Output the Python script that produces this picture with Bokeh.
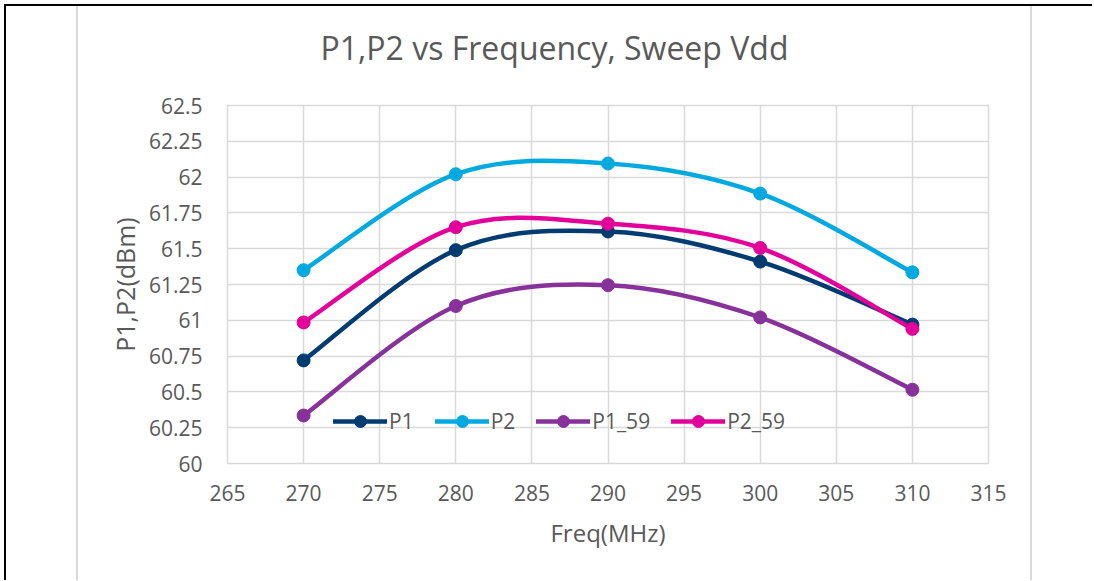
import numpy as np
from bokeh.plotting import figure
from bokeh.layouts import column
from bokeh.models import (ColumnDataSource, FixedTicker, Legend, LegendItem, Range1d, Title)
from bokeh.embed import file_html
from bokeh.resources import INLINE

# ---------------- data ----------------
freq = [270, 280, 290, 300, 310]
p1 = [60.72, 61.49, 61.62, 61.41, 60.97]
p2 = [61.35, 62.02, 62.095, 61.885, 61.335]
p1_59 = [60.335, 61.10, 61.245, 61.02, 60.515]
p2_59 = [60.985, 61.65, 61.675, 61.505, 60.94]

series_names = ["P1", "P2", "P1_59", "P2_59"]
series_values = [p1, p2, p1_59, p2_59]
series_colors = ["#003C71", "#00A9E0", "#87329B", "#E3009A"]

x_ticks = [265, 270, 275, 280, 285, 290, 295, 300, 305, 310, 315]
y_ticks = [60.0, 60.25, 60.5, 60.75, 61.0, 61.25, 61.5, 61.75, 62.0, 62.25, 62.5]
y_tick_labels = ["60", "60.25", "60.5", "60.75", "61", "61.25", "61.5",
                 "61.75", "62", "62.25", "62.5"]

title_text = "P1,P2 vs Frequency, Sweep Vdd"
x_label = "Freq(MHz)"
y_label = "P1,P2(dBm)"

FONT = "Open Sans"
TXT = "#595959"
GRID = "#d9d9d9"


def smooth_segments(xs, ys):
    """Bezier control points (Catmull-Rom style, like a spreadsheet's smoothed line)."""
    x = np.asarray(xs, float)
    y = np.asarray(ys, float)
    n = len(x)
    xp = np.concatenate([[x[0]], x, [x[-1]]])
    yp = np.concatenate([[y[0]], y, [y[-1]]])
    return dict(
        x0=x[:-1], y0=y[:-1], x1=x[1:], y1=y[1:],
        cx0=x[:-1] + (xp[2:n + 1] - xp[0:n - 1]) / 6.0,
        cy0=y[:-1] + (yp[2:n + 1] - yp[0:n - 1]) / 6.0,
        cx1=x[1:] - (xp[3:n + 2] - xp[1:n]) / 6.0,
        cy1=y[1:] - (yp[3:n + 2] - yp[1:n]) / 6.0,
    )


p = figure(width=956, height=574, output_backend="svg", toolbar_location=None,
           x_range=Range1d(265, 315), y_range=Range1d(60, 62.5),
           min_border=0, min_border_left=149, min_border_right=46,
           min_border_top=99, min_border_bottom=117,
           background_fill_color="white", border_fill_color="white")
p.styles = {"margin-left": "70px",
            "border-left": f"2px solid {GRID}",
            "border-right": f"2px solid {GRID}"}

# title: a small spacer title next to the frame, the real title above it
p.add_layout(Title(text=" ", text_font=FONT, text_font_size="10px", standoff=21), "above")
p.add_layout(Title(text=title_text, text_font=FONT, text_font_size="32px",
                   text_font_style="normal", text_color=TXT, align="left",
                   offset=93, standoff=0), "above")

# axes
for ax in (p.xaxis, p.yaxis):
    ax.axis_line_color = None
    ax.major_tick_line_color = None
    ax.minor_tick_line_color = None
    ax.major_tick_out = 0
    ax.major_tick_in = 0
    ax.minor_tick_out = 0
    ax.minor_tick_in = 0
    ax.major_label_text_font = FONT
    ax.major_label_text_font_size = "21px"
    ax.major_label_text_color = TXT
    ax.axis_label_text_font = FONT
    ax.axis_label_text_font_style = "normal"
    ax.axis_label_text_color = TXT

p.xaxis.axis_label_text_font_size = "24px"
p.yaxis.axis_label_text_font_size = "25px"
p.xaxis.ticker = FixedTicker(ticks=x_ticks)
p.yaxis.ticker = FixedTicker(ticks=y_ticks)
p.yaxis.major_label_overrides = {float(t): lab for t, lab in zip(y_ticks, y_tick_labels)}
p.xaxis.axis_label = x_label
p.yaxis.axis_label = y_label
p.xaxis.major_label_standoff = 21
p.yaxis.major_label_standoff = 25
p.xaxis.axis_label_standoff = 12
p.yaxis.axis_label_standoff = 4

p.xgrid.grid_line_color = GRID
p.ygrid.grid_line_color = GRID
p.xgrid.grid_line_width = 1.5
p.ygrid.grid_line_width = 1.5
p.outline_line_color = GRID
p.outline_line_width = 1.5

items = []
for name, vals, col in zip(series_names, series_values, series_colors):
    src = ColumnDataSource(smooth_segments(freq, vals))
    rb = p.bezier(x0="x0", y0="y0", x1="x1", y1="y1", cx0="cx0", cy0="cy0",
                  cx1="cx1", cy1="cy1", source=src, line_color=col,
                  line_width=4.5, line_cap="round")
    rs = p.scatter(freq, vals, size=13, fill_color=col, line_color=col)
    items.append(LegendItem(label=name, renderers=[rb, rs]))

legend = Legend(items=items, orientation="horizontal", location=(106, 27),
                glyph_width=54, glyph_height=30, label_standoff=2, spacing=21,
                padding=0, margin=0, background_fill_alpha=0, border_line_alpha=0,
                label_text_font=FONT, label_text_font_size="21px",
                label_text_color=TXT)
p.add_layout(legend)

root = column(p, width=1088,
              styles={"margin-left": "4px", "margin-top": "4px",
                      "border-left": "2px solid black",
                      "border-top": "2px solid black"})

open("out.html", "w").write(file_html(root, INLINE))
